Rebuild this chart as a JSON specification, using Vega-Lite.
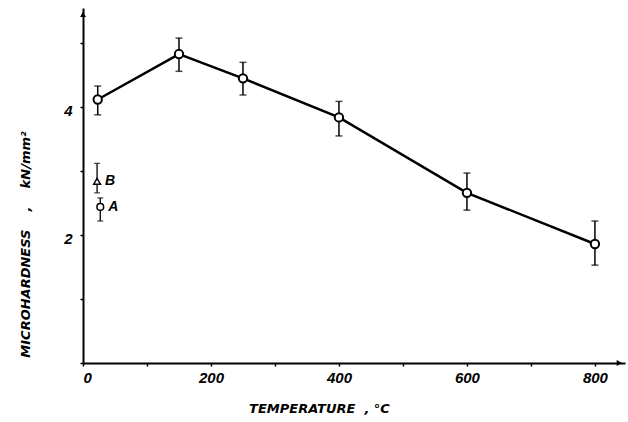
{
  "$schema": "https://vega.github.io/schema/vega-lite/v6.json",
  "width": 542,
  "height": 355,
  "autosize": {"type": "none"},
  "padding": {"left": 83, "top": 8, "right": 3, "bottom": 59},
  "background": "white",
  "config": {
    "view": {"stroke": null},
    "axis": {
      "grid": false,
      "domainColor": "black",
      "domainWidth": 2,
      "tickColor": "black",
      "tickWidth": 1.5,
      "tickSize": 3,
      "labelFont": "Liberation Sans",
      "labelFontWeight": "bold",
      "labelFontStyle": "italic",
      "labelFontSize": 15,
      "labelColor": "black",
      "titleFont": "DejaVu Sans",
      "titleFontWeight": "bold",
      "titleFontStyle": "italic",
      "titleFontSize": 13,
      "titleColor": "black"
    }
  },
  "datasets": {
    "main": [
      {"t": 23, "h": 4.12, "lo": 3.88, "hi": 4.33},
      {"t": 150, "h": 4.83, "lo": 4.56, "hi": 5.08},
      {"t": 250, "h": 4.45, "lo": 4.19, "hi": 4.70},
      {"t": 400, "h": 3.84, "lo": 3.55, "hi": 4.09},
      {"t": 600, "h": 2.66, "lo": 2.39, "hi": 2.97},
      {"t": 800, "h": 1.86, "lo": 1.53, "hi": 2.22}
    ],
    "samples": [
      {"t": 22, "h": 2.84, "lo": 2.66, "hi": 3.12, "label": "B", "shape": "triangle-up"},
      {"t": 27, "h": 2.44, "lo": 2.22, "hi": 2.58, "label": "A", "shape": "circle"}
    ],
    "arrows": [
      {"t": 838, "h": 0, "shape": "triangle-right"},
      {"t": 0, "h": 5.45, "shape": "triangle-up"}
    ]
  },
  "layer": [
    {
      "data": {"name": "main"},
      "mark": {"type": "line", "color": "black", "strokeWidth": 2.5},
      "encoding": {
        "x": {
          "field": "t", "type": "quantitative",
          "title": "TEMPERATURE\u00a0\u00a0,\u00a0°C",
          "scale": {"domain": [0, 847], "nice": false, "zero": false},
          "axis": {
            "values": [0, 100, 200, 300, 400, 500, 600, 700, 800],
            "labelExpr": "datum.value % 200 === 0 ? datum.label : ''",
            "labelPadding": 4,
            "titleX": 236,
            "titleY": 45,
            "titleAlign": "center",
            "titleBaseline": "middle"
          }
        },
        "y": {
          "field": "h", "type": "quantitative",
          "title": "MICROHARDNESS\u00a0\u00a0\u00a0\u00a0,\u00a0\u00a0\u00a0\u00a0kN/mm²",
          "scale": {"domain": [0, 5.55], "nice": false, "zero": false},
          "axis": {
            "values": [0, 1, 2, 3, 4, 5],
            "labelExpr": "datum.value === 2 || datum.value === 4 ? format(datum.value, 'd') : ''",
            "labelPadding": 8,
            "labelBaseline": "top",
            "labelOffset": -4,
            "titleAngle": -90,
            "titleX": -58,
            "titleY": 236,
            "titleAlign": "center",
            "titleBaseline": "middle"
          }
        }
      }
    },
    {
      "data": {"name": "main"},
      "mark": {"type": "errorbar", "ticks": {"size": 7, "color": "black", "thickness": 1.5}, "rule": {"color": "black", "strokeWidth": 1.5}},
      "encoding": {
        "x": {"field": "t", "type": "quantitative", "title": "TEMPERATURE\u00a0\u00a0,\u00a0°C"},
        "y": {"field": "lo", "type": "quantitative", "title": "MICROHARDNESS\u00a0\u00a0\u00a0\u00a0,\u00a0\u00a0\u00a0\u00a0kN/mm²"},
        "y2": {"field": "hi"}
      }
    },
    {
      "data": {"name": "main"},
      "mark": {"type": "point", "shape": "circle", "size": 70, "stroke": "black", "strokeWidth": 2, "fill": "white", "filled": true, "opacity": 1, "strokeOpacity": 1},
      "encoding": {
        "x": {"field": "t", "type": "quantitative", "title": "TEMPERATURE\u00a0\u00a0,\u00a0°C"},
        "y": {"field": "h", "type": "quantitative", "title": "MICROHARDNESS\u00a0\u00a0\u00a0\u00a0,\u00a0\u00a0\u00a0\u00a0kN/mm²"}
      }
    },
    {
      "data": {"name": "samples"},
      "mark": {"type": "errorbar", "ticks": {"size": 6, "color": "black", "thickness": 1.3}, "rule": {"color": "black", "strokeWidth": 1.3}},
      "encoding": {
        "x": {"field": "t", "type": "quantitative", "title": "TEMPERATURE\u00a0\u00a0,\u00a0°C"},
        "y": {"field": "lo", "type": "quantitative", "title": "MICROHARDNESS\u00a0\u00a0\u00a0\u00a0,\u00a0\u00a0\u00a0\u00a0kN/mm²"},
        "y2": {"field": "hi"}
      }
    },
    {
      "data": {"name": "samples"},
      "mark": {"type": "point", "size": 45, "stroke": "black", "strokeWidth": 1.5, "fill": "white", "filled": true, "opacity": 1, "strokeOpacity": 1},
      "encoding": {
        "x": {"field": "t", "type": "quantitative", "title": "TEMPERATURE\u00a0\u00a0,\u00a0°C"},
        "y": {"field": "h", "type": "quantitative", "title": "MICROHARDNESS\u00a0\u00a0\u00a0\u00a0,\u00a0\u00a0\u00a0\u00a0kN/mm²"},
        "shape": {"field": "shape", "type": "nominal", "scale": null, "legend": null}
      }
    },
    {
      "data": {"name": "samples"},
      "mark": {"type": "text", "dx": 13, "dy": 0, "font": "Liberation Sans", "fontWeight": "bold", "fontStyle": "italic", "fontSize": 14, "color": "black", "align": "center", "baseline": "middle"},
      "encoding": {
        "x": {"field": "t", "type": "quantitative", "title": "TEMPERATURE\u00a0\u00a0,\u00a0°C"},
        "y": {"field": "h", "type": "quantitative", "title": "MICROHARDNESS\u00a0\u00a0\u00a0\u00a0,\u00a0\u00a0\u00a0\u00a0kN/mm²"},
        "text": {"field": "label"}
      }
    },
    {
      "data": {"name": "arrows"},
      "mark": {"type": "point", "size": 35, "filled": true, "color": "black", "opacity": 1, "clip": false},
      "encoding": {
        "x": {"field": "t", "type": "quantitative", "title": "TEMPERATURE\u00a0\u00a0,\u00a0°C"},
        "y": {"field": "h", "type": "quantitative", "title": "MICROHARDNESS\u00a0\u00a0\u00a0\u00a0,\u00a0\u00a0\u00a0\u00a0kN/mm²"},
        "shape": {"field": "shape", "type": "nominal", "scale": null, "legend": null}
      }
    }
  ]
}
